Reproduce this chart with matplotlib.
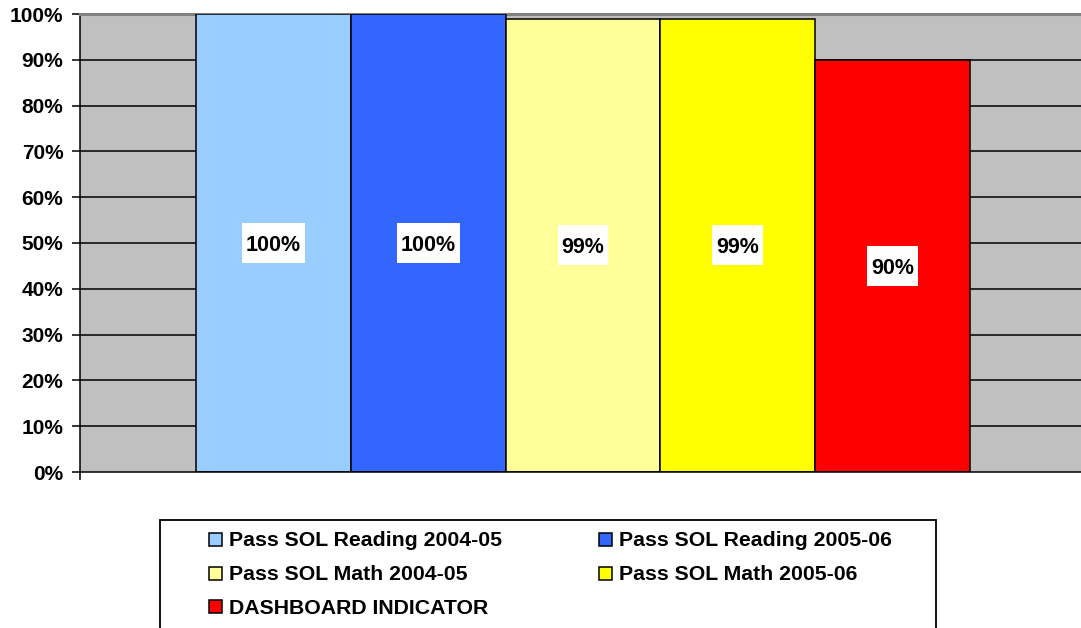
import matplotlib
matplotlib.use("Agg")
import matplotlib.pyplot as plt
from matplotlib.patches import Rectangle

# ---- data ----
series_names = ["Pass SOL Reading 2004-05", "Pass SOL Reading 2005-06",
                "Pass SOL Math 2004-05", "Pass SOL Math 2005-06",
                "DASHBOARD INDICATOR"]
values = [100, 100, 99, 99, 90]
colors = ["#99CCFF", "#3366FF", "#FFFF99", "#FFFF00", "#FF0000"]
yticks = [0, 10, 20, 30, 40, 50, 60, 70, 80, 90, 100]
ytick_labels = [f"{v}%" for v in yticks]

W, H = 1081, 628
plt.rcParams['font.family'] = ['Liberation Sans', 'DejaVu Sans']
fig = plt.figure(figsize=(W / 100, H / 100), dpi=100)

ax_left, ax_right, ax_top, ax_bot = 80, 1086, 14, 472
ax = fig.add_axes([ax_left / W, (H - ax_bot) / H, (ax_right - ax_left) / W, (ax_bot - ax_top) / H])
ax.set_facecolor("#C0C0C0")

x = list(range(len(values)))
ax.bar(x, values, width=1.0, color=colors, edgecolor="black", linewidth=1.1, zorder=3)
ax.set_xlim(-1.248, 5.248)
ax.set_ylim(0, 100)

for v in yticks[1:-1]:
    ax.axhline(v, color="black", linewidth=1.1, zorder=1)

label_texts = []
for xi, v in zip(x, values):
    t = ax.annotate(f"{v}%", (xi, v / 2), xytext=(0, -5.5), textcoords="offset points",
                    ha="center", va="baseline", fontsize=15.5, fontweight="bold", zorder=6)
    label_texts.append(t)

ax.set_yticks(yticks)
ax.set_yticklabels(ytick_labels, fontsize=15, fontweight="bold")
ax.tick_params(axis="y", direction="out", length=6, width=1.1, pad=6)
ax.set_xticks([-1.248])
ax.set_xticklabels([""])
ax.tick_params(axis="x", direction="out", length=6, width=1.1)

ax.spines["left"].set_linewidth(1.1)
ax.spines["bottom"].set_linewidth(1.1)
ax.spines["bottom"].set_zorder(4)
ax.spines["top"].set_color("#808080")
ax.spines["top"].set_linewidth(2.2)
ax.spines["right"].set_color("#808080")

# white boxes behind data labels (sized from rendered text)
fig.canvas.draw()
renderer = fig.canvas.get_renderer()
for xi, v, t in zip(x, values, label_texts):
    ext = t.get_window_extent(renderer)
    cx, cy = ax.transData.transform((xi, v / 2))
    bw, bh = ext.width + 8, 40
    fig.patches.append(Rectangle(((cx - bw / 2) / W, (cy - bh / 2) / H), bw / W, bh / H,
                                 transform=fig.transFigure, facecolor="white",
                                 edgecolor="none", zorder=5))
    t.set_zorder(6)
    # move text to figure level so it sits above the box
    t.remove()
    fig.text(cx / W, (cy - 5.5 * 100 / 72) / H, f"{v}%", ha="center", va="baseline",
             fontsize=15.5, fontweight="bold", zorder=7)

# ---- legend (manual) ----
lx0, lx1, ly0 = 160, 936, 520
fig.patches.append(Rectangle((lx0 / W, -0.05), (lx1 - lx0) / W, (H - ly0) / H + 0.05,
                             transform=fig.transFigure, facecolor="white",
                             edgecolor="black", linewidth=1.3))
col_x = [209, 599]
row_y = [539, 573, 606]
sq = 13
for i, (name, c) in enumerate(zip(series_names, colors)):
    cx = col_x[i % 2]
    cy = row_y[i // 2]
    fig.patches.append(Rectangle((cx / W, (H - cy - sq / 2) / H), sq / W, sq / H,
                                 transform=fig.transFigure, facecolor=c,
                                 edgecolor="black", linewidth=1.1))
    fig.text((cx + sq + 7) / W, (H - cy - 7.5) / H, name, ha="left", va="baseline",
             fontsize=15.3, fontweight="bold")

fig.savefig("out.png", dpi=100)
